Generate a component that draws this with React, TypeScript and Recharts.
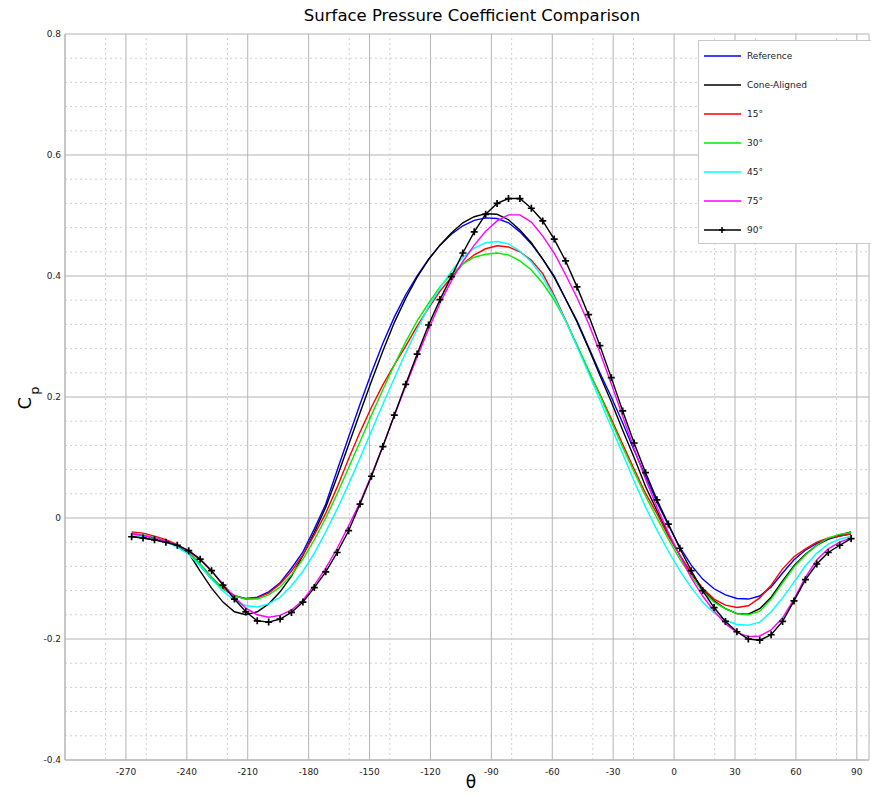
import React from "react";
import { LineChart, Line, XAxis, YAxis, CartesianGrid, ReferenceLine } from "recharts";

// sample angles (deg)
const theta = [
  -267.19, -261.56, -255.94, -250.31, -244.69, -239.06, -233.44, -227.81,
  -222.19, -216.56, -210.94, -205.31, -199.69, -194.06, -188.44, -182.81,
  -177.19, -171.56, -165.94, -160.31, -154.69, -149.06, -143.44, -137.81,
  -132.19, -126.56, -120.94, -115.31, -109.69, -104.06, -98.44, -92.81,
  -87.19, -81.56, -75.94, -70.31, -64.69, -59.06, -53.44, -47.81,
  -42.19, -36.56, -30.94, -25.31, -19.69, -14.06, -8.44, -2.81,
  2.81, 8.44, 14.06, 19.69, 25.31, 30.94, 36.56, 42.19,
  47.81, 53.44, 59.06, 64.69, 70.31, 75.94, 81.56, 87.19,
];

const reference = [
  -0.025, -0.030, -0.035, -0.039, -0.046, -0.056, -0.079, -0.101,
  -0.117, -0.129, -0.133, -0.131, -0.122, -0.107, -0.083, -0.056,
  -0.018, 0.023, 0.079, 0.134, 0.188, 0.240, 0.289, 0.332,
  0.369, 0.400, 0.428, 0.451, 0.469, 0.483, 0.492, 0.496,
  0.495, 0.488, 0.473, 0.453, 0.428, 0.400, 0.362, 0.326,
  0.283, 0.240, 0.200, 0.157, 0.112, 0.069, 0.026, -0.012,
  -0.048, -0.078, -0.101, -0.117, -0.127, -0.133, -0.134, -0.129,
  -0.114, -0.091, -0.069, -0.053, -0.042, -0.035, -0.030, -0.026,
];

const coneAligned = [
  -0.030, -0.033, -0.036, -0.040, -0.046, -0.058, -0.088, -0.116,
  -0.139, -0.155, -0.160, -0.155, -0.142, -0.122, -0.096, -0.062,
  -0.024, 0.018, 0.068, 0.121, 0.174, 0.226, 0.276, 0.323,
  0.363, 0.398, 0.427, 0.451, 0.471, 0.488, 0.498, 0.503,
  0.502, 0.493, 0.476, 0.455, 0.428, 0.398, 0.362, 0.324,
  0.281, 0.236, 0.192, 0.145, 0.100, 0.052, 0.012, -0.027,
  -0.062, -0.092, -0.117, -0.137, -0.150, -0.158, -0.159, -0.150,
  -0.131, -0.104, -0.079, -0.060, -0.045, -0.035, -0.028, -0.023,
];

const deg15 = [
  -0.023, -0.025, -0.030, -0.036, -0.044, -0.056, -0.076, -0.098,
  -0.116, -0.128, -0.134, -0.132, -0.124, -0.109, -0.088, -0.061,
  -0.028, 0.008, 0.051, 0.098, 0.142, 0.183, 0.220, 0.253,
  0.284, 0.317, 0.347, 0.375, 0.398, 0.420, 0.435, 0.445,
  0.450, 0.448, 0.440, 0.426, 0.404, 0.368, 0.327, 0.285,
  0.243, 0.205, 0.164, 0.122, 0.081, 0.041, 0.007, -0.030,
  -0.061, -0.091, -0.116, -0.134, -0.144, -0.148, -0.145, -0.132,
  -0.111, -0.084, -0.064, -0.051, -0.040, -0.033, -0.030, -0.026,
];

const deg30 = [
  -0.026, -0.028, -0.032, -0.038, -0.045, -0.056, -0.076, -0.098,
  -0.117, -0.129, -0.134, -0.134, -0.127, -0.114, -0.094, -0.068,
  -0.036, 0.000, 0.040, 0.083, 0.126, 0.170, 0.212, 0.253,
  0.291, 0.326, 0.355, 0.382, 0.403, 0.420, 0.431, 0.436,
  0.438, 0.435, 0.425, 0.410, 0.388, 0.360, 0.326, 0.286,
  0.245, 0.203, 0.160, 0.117, 0.076, 0.036, 0.000, -0.035,
  -0.068, -0.096, -0.121, -0.139, -0.150, -0.158, -0.160, -0.154,
  -0.134, -0.107, -0.081, -0.061, -0.045, -0.033, -0.027, -0.024,
];

const deg45 = [
  -0.028, -0.031, -0.035, -0.040, -0.048, -0.060, -0.079, -0.101,
  -0.121, -0.136, -0.145, -0.147, -0.142, -0.131, -0.112, -0.088,
  -0.058, -0.023, 0.015, 0.056, 0.099, 0.144, 0.188, 0.231,
  0.273, 0.312, 0.349, 0.380, 0.408, 0.431, 0.446, 0.455,
  0.457, 0.453, 0.441, 0.423, 0.398, 0.365, 0.326, 0.283,
  0.240, 0.195, 0.150, 0.106, 0.061, 0.018, -0.020, -0.055,
  -0.087, -0.115, -0.139, -0.157, -0.169, -0.176, -0.177, -0.172,
  -0.155, -0.132, -0.106, -0.079, -0.058, -0.043, -0.035, -0.030,
];

const deg75 = [
  -0.026, -0.029, -0.033, -0.038, -0.045, -0.055, -0.069, -0.088,
  -0.109, -0.131, -0.149, -0.160, -0.164, -0.161, -0.152, -0.136,
  -0.111, -0.083, -0.050, -0.013, 0.026, 0.071, 0.119, 0.169,
  0.218, 0.266, 0.312, 0.355, 0.392, 0.424, 0.451, 0.474,
  0.491, 0.501, 0.501, 0.489, 0.466, 0.438, 0.402, 0.364,
  0.322, 0.274, 0.222, 0.168, 0.115, 0.064, 0.018, -0.024,
  -0.062, -0.099, -0.129, -0.154, -0.175, -0.189, -0.196, -0.195,
  -0.185, -0.165, -0.134, -0.098, -0.069, -0.051, -0.040, -0.033,
];

const deg90 = [
  -0.031, -0.033, -0.036, -0.040, -0.045, -0.054, -0.068, -0.087,
  -0.111, -0.134, -0.155, -0.170, -0.172, -0.167, -0.156, -0.139,
  -0.115, -0.089, -0.057, -0.021, 0.023, 0.069, 0.118, 0.170,
  0.221, 0.271, 0.319, 0.361, 0.399, 0.438, 0.473, 0.502,
  0.520, 0.528, 0.528, 0.512, 0.491, 0.461, 0.425, 0.382,
  0.336, 0.285, 0.232, 0.177, 0.124, 0.075, 0.030, -0.010,
  -0.050, -0.087, -0.120, -0.148, -0.171, -0.188, -0.200, -0.202,
  -0.193, -0.171, -0.137, -0.102, -0.076, -0.057, -0.045, -0.034,
];

const seriesNames = ["Reference", "Cone-Aligned", "15°", "30°", "45°", "75°", "90°"];
const seriesKeys = ["ref", "cone", "d15", "d30", "d45", "d75", "d90"];
const seriesColors = ["#0000ff", "#000000", "#ff0000", "#00ee00", "#00ffff", "#ff00ff", "#000000"];

const xTicks = [-270, -240, -210, -180, -150, -120, -90, -60, -30, 0, 30, 60, 90];
const yTicks = [-0.4, -0.2, 0, 0.2, 0.4, 0.6, 0.8];
const xMinor = [-280, -260, -220, -160, -140, -80, -40, -20, 20, 40, 80];
const yMinor = [
  0.76, 0.72, 0.68, 0.64, 0.56, 0.52, 0.48, 0.44, 0.36, 0.32, 0.28, 0.24,
  0.16, 0.12, 0.08, 0.04, -0.04, -0.08, -0.12, -0.16, -0.24, -0.28, -0.32, -0.36,
];

const data = theta.map((t, i) => ({
  theta: t,
  ref: reference[i],
  cone: coneAligned[i],
  d15: deg15[i],
  d30: deg30[i],
  d45: deg45[i],
  d75: deg75[i],
  d90: deg90[i],
}));

const FONT = "'DejaVu Sans', sans-serif";

const PlusDot = (props: any) => {
  const { cx, cy, index } = props;
  if (cx == null || cy == null) return <g key={`n${index}`} />;
  return (
    <path
      key={`p${index}`}
      d={`M${cx - 3.5},${cy}H${cx + 3.5}M${cx},${cy - 3.5}V${cy + 3.5}`}
      stroke="#000"
      strokeWidth={1.7}
      fill="none"
    />
  );
};

const Legend = () => (
  <div
    style={{
      position: "absolute",
      left: 698,
      top: 40,
      width: 180,
      height: 202,
      border: "1px solid #c8c8c8",
      background: "#fff",
      fontFamily: FONT,
      fontSize: 9,
      color: "#222",
    }}
  >
    {seriesNames.map((name, i) => (
      <div
        key={name}
        style={{ position: "absolute", left: 5, top: 8 + i * 29, height: 14, display: "flex", alignItems: "center" }}
      >
        <svg width={38} height={14}>
          <line x1={0} y1={7} x2={37} y2={7} stroke={seriesColors[i]} strokeWidth={1.5} />
          {i === 6 && <path d="M18,4V10M15,7H21" stroke="#000" strokeWidth={1.5} />}
        </svg>
        <span style={{ marginLeft: 5 }}>{name}</span>
      </div>
    ))}
  </div>
);

export default function App() {
  return (
    <div style={{ position: "absolute", left: 0, top: 0, width: 871, height: 796, background: "#fff" }}>
      <div
        style={{
          position: "absolute",
          left: 472,
          top: 6,
          transform: "translateX(-50%)",
          whiteSpace: "nowrap",
          fontFamily: FONT,
          fontSize: 16.5,
          color: "#000",
        }}
      >
        Surface Pressure Coefficient Comparison
      </div>
      <LineChart width={871} height={796} data={data} margin={{ top: 34, right: 2, bottom: 0, left: 5 }}>
        <CartesianGrid stroke="#b4b4b4" />
        {xMinor.map((v) => (
          <ReferenceLine key={`vx${v}`} x={v} stroke="#cfcfcf" strokeDasharray="2 3" />
        ))}
        {yMinor.map((v) => (
          <ReferenceLine key={`hy${v}`} y={v} stroke="#cfcfcf" strokeDasharray="2 3" />
        ))}
        <XAxis
          dataKey="theta"
          type="number"
          domain={[-300, 96]}
          ticks={xTicks}
          allowDataOverflow
          height={36}
          tickLine={false}
          axisLine={{ stroke: "#b4b4b4" }}
          tickSize={4}
          tickMargin={5}
          tick={{ fontSize: 9, fontFamily: FONT, fill: "#222" }}
        />
        <YAxis
          type="number"
          domain={[-0.4, 0.8]}
          ticks={yTicks}
          allowDataOverflow
          width={60}
          tickLine={false}
          axisLine={{ stroke: "#b4b4b4" }}
          tickSize={0}
          tickMargin={4}
          tick={{ fontSize: 9, fontFamily: FONT, fill: "#222" }}
        />
        {seriesKeys.map((k, i) => (
          <Line
            key={k}
            type="linear"
            dataKey={k}
            name={seriesNames[i]}
            stroke={seriesColors[i]}
            strokeWidth={1.4}
            dot={i === 6 ? PlusDot : false}
            activeDot={false}
            isAnimationActive={false}
          />
        ))}
      </LineChart>
      <Legend />
      <div
        style={{
          position: "absolute",
          left: 471,
          top: 772,
          transform: "translateX(-50%)",
          fontFamily: FONT,
          fontSize: 17,
          color: "#000",
        }}
      >
        θ
      </div>
      <div
        style={{
          position: "absolute",
          left: 24,
          top: 398,
          transform: "translate(-50%, -50%) rotate(-90deg)",
          fontFamily: FONT,
          fontSize: 18,
          color: "#000",
          whiteSpace: "nowrap",
        }}
      >
        C<span style={{ fontSize: 13, position: "relative", top: 8, marginLeft: 2 }}>p</span>
      </div>
    </div>
  );
}
